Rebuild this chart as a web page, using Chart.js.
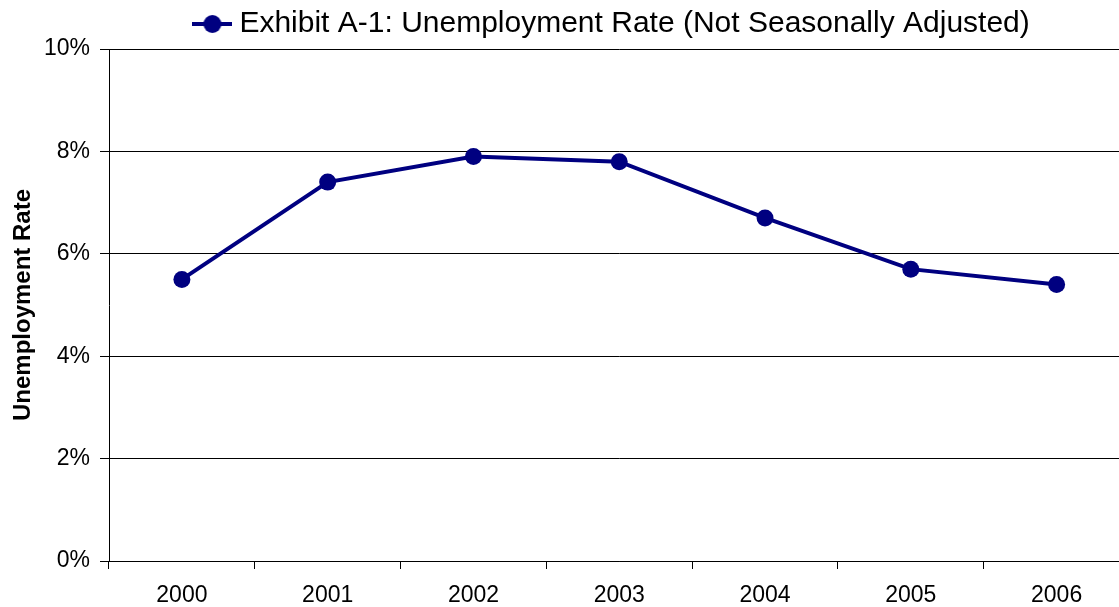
<!DOCTYPE html>
<html>
<head>
<meta charset="utf-8">
<script src="https://cdn.jsdelivr.net/npm/chart.js@4"></script>
<style>
  body { margin: 0; overflow: hidden; background: #fff; }
  #wrap { position: absolute; left: 0; top: 0; width: 1138px; height: 607px; }
</style>
</head>
<body>
<div id="wrap"><canvas id="rateChart" width="1138" height="607"></canvas></div>
<script>
const years = ["2000", "2001", "2002", "2003", "2004", "2005", "2006"];
const rates = [5.5, 7.4, 7.9, 7.8, 6.7, 5.7, 5.4];
const seriesLabel = "Exhibit A-1: Unemployment Rate (Not Seasonally Adjusted)";
const navy = "#000080";

// legend marker: short line with a dot in the middle
function makeMarker() {
    const c = document.createElement("canvas");
    c.width = 40;
    c.height = 20;
    const g = c.getContext("2d");
    g.strokeStyle = navy;
    g.lineWidth = 4;
    g.beginPath();
    g.moveTo(0, 10);
    g.lineTo(40, 10);
    g.stroke();
    g.fillStyle = navy;
    g.beginPath();
    g.arc(20, 10, 9, 0, Math.PI * 2);
    g.fill();
    return c;
}
const marker = makeMarker();

const ctx = document.getElementById("rateChart").getContext("2d");
new Chart(ctx, {
    type: "line",
    data: {
        labels: years,
        datasets: [{
            label: seriesLabel,
            data: rates,
            borderColor: navy,
            backgroundColor: navy,
            borderWidth: 4,
            pointRadius: 8.5,
            pointHoverRadius: 8.5,
            pointBackgroundColor: navy,
            pointBorderColor: navy,
            pointBorderWidth: 0,
            tension: 0
        }]
    },
    options: {
        responsive: false,
        animation: false,
        layout: { padding: { left: 0, right: 1, top: 4, bottom: 0 } },
        plugins: {
            tooltip: { enabled: false },
            legend: {
                position: "top",
                fullSize: false,
                labels: {
                    usePointStyle: true,
                    pointStyleWidth: 24,
                    color: "#000",
                    font: { family: "Liberation Sans, Arial", size: 30 },
                    padding: 5,
                    generateLabels: function(chart) {
                        return [{
                            text: seriesLabel + " ",
                            pointStyle: marker,
                            fillStyle: navy,
                            strokeStyle: navy,
                            lineWidth: 0,
                            datasetIndex: 0
                        }];
                    }
                }
            }
        },
        scales: {
            x: {
                offset: true,
                afterFit: function(s) { s.height = 46; },
                grid: {
                    offset: true,
                    drawOnChartArea: false,
                    drawTicks: true,
                    tickLength: 8,
                    color: "#000"
                },
                border: { display: true, color: "#000", width: 1 },
                ticks: {
                    color: "#000",
                    font: { family: "Liberation Sans, Arial", size: 23 },
                    padding: 13,
                    maxRotation: 0
                }
            },
            y: {
                min: 0,
                max: 10,
                afterFit: function(s) { s.width = 109; },
                grid: {
                    color: "#000",
                    lineWidth: 1,
                    tickLength: 9
                },
                border: { display: true, color: "#000", width: 1 },
                ticks: {
                    stepSize: 2,
                    color: "#000",
                    padding: 10,
                    font: { family: "Liberation Sans, Arial", size: 23 },
                    callback: function(v) { return v + "%"; }
                },
                title: {
                    display: true,
                    text: "Unemployment Rate",
                    color: "#000",
                    font: { family: "Liberation Sans, Arial", size: 24, weight: "bold" },
                    padding: { top: 9, bottom: 0 }
                }
            }
        }
    }
});
</script>
</body>
</html>
